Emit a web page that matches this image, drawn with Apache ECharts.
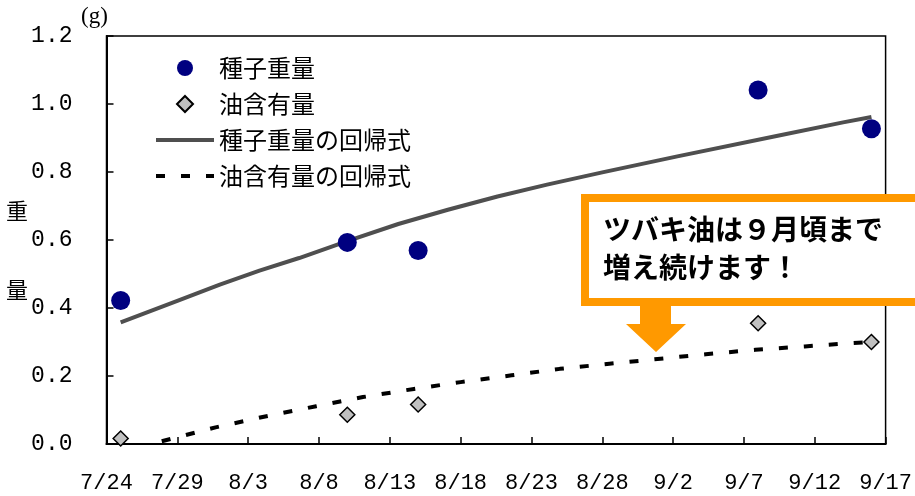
<!DOCTYPE html>
<html>
<head>
<meta charset="utf-8">
<script src="https://cdn.jsdelivr.net/npm/echarts@6/dist/echarts.min.js"></script>
<style>
  html, body { margin: 0; padding: 0; background: #fff; }
  #chart { width: 915px; height: 496px; }
</style>
</head>
<body>
<div id="chart"></div>
<script>
// X axis: days counted from 7/24, one tick label every 5 days
const tickLabels = ['7/24', '7/29', '8/3', '8/8', '8/13', '8/18', '8/23', '8/28', '9/2', '9/7', '9/12', '9/17'];

// Sampling days (days after 7/24) and measured values (g)
const sampleDays = [1, 17, 22, 46, 54];
const seedWeight = [0.422, 0.593, 0.569, 1.041, 0.927];
const oilContent = [0.016, 0.086, 0.116, 0.355, 0.300];

// Regression curve for seed weight
const seedTrendDays = [1, 5, 8, 10.8, 13.6, 17.1, 20.6, 24.1, 27.6, 31.1, 35, 40.3, 47.3, 52, 54];
const seedTrendVals = [0.358, 0.421, 0.469, 0.510, 0.547, 0.598, 0.647, 0.689, 0.728, 0.763, 0.799, 0.846, 0.906, 0.946, 0.962];

// Regression curve for oil content
const oilTrendDays = [3.9, 7.7, 11.2, 14.8, 18.1, 21.7, 25, 28.6, 32, 35.5, 38.9, 42.3, 45.8, 49.3, 52.7, 54];
const oilTrendVals = [0.008, 0.049, 0.081, 0.111, 0.138, 0.162, 0.182, 0.202, 0.221, 0.236, 0.250, 0.264, 0.277, 0.287, 0.297, 0.300];

const pairs = (xs, ys) => xs.map((x, i) => [x, ys[i]]);

const jp = '"Noto Sans CJK JP", "Noto Sans", sans-serif';
const mono = '"Liberation Mono", "DejaVu Sans Mono", monospace';

const chart = echarts.init(document.getElementById('chart'), null, { renderer: 'canvas' });

chart.setOption({
  animation: false,
  backgroundColor: '#fff',
  grid: {
    left: 106.5, right: 25, top: 36, bottom: 52,
    show: true, borderColor: '#000', borderWidth: 1.5, backgroundColor: 'transparent'
  },
  xAxis: {
    type: 'value',
    min: 0, max: 55, interval: 5,
    axisLine: { show: true, onZero: false, lineStyle: { color: '#000', width: 2 } },
    axisTick: { show: true, inside: true, length: 7, lineStyle: { color: '#000', width: 1.5 } },
    splitLine: { show: false },
    axisLabel: {
      margin: 28, color: '#000', fontFamily: mono, fontSize: 22,
      formatter: v => tickLabels[Math.round(v / 5)] || ''
    }
  },
  yAxis: {
    type: 'value',
    min: 0, max: 1.2, interval: 0.2,
    axisLine: { show: true, onZero: false, lineStyle: { color: '#000', width: 2 } },
    axisTick: { show: true, inside: true, length: 7, lineStyle: { color: '#000', width: 1.5 } },
    splitLine: { show: false },
    axisLabel: {
      margin: 34, color: '#000', fontFamily: mono, fontSize: 23,
      formatter: v => v.toFixed(1)
    }
  },
  legend: {
    orient: 'vertical',
    left: 149, top: 51,
    itemWidth: 58, itemHeight: 16, itemGap: 12,
    textStyle: { color: '#000', fontFamily: jp, fontSize: 24 },
    data: [
      { name: '種子重量', icon: 'circle' },
      { name: '油含有量', icon: 'path://M7,0 L14,7 L7,14 L0,7 Z' },
      { name: '種子重量の回帰式', itemStyle: { opacity: 0 }, lineStyle: { width: 4 } },
      { name: '油含有量の回帰式', itemStyle: { opacity: 0 }, lineStyle: { width: 4 } }
    ]
  },
  series: [
    {
      name: '種子重量の回帰式',
      type: 'line',
      data: pairs(seedTrendDays, seedTrendVals),
      symbol: 'none',
      lineStyle: { color: '#4f4f4f', width: 4, join: 'round' },
      itemStyle: { color: '#4f4f4f' },
      z: 2
    },
    {
      name: '油含有量の回帰式',
      type: 'line',
      data: pairs(oilTrendDays, oilTrendVals),
      symbol: 'none',
      lineStyle: { color: '#000', width: 4, type: [9, 16], cap: 'butt' },
      itemStyle: { color: '#000' },
      z: 2
    },
    {
      name: '種子重量',
      type: 'scatter',
      data: pairs(sampleDays, seedWeight),
      symbol: 'circle',
      symbolSize: 19,
      itemStyle: { color: '#000080', opacity: 1 },
      z: 3
    },
    {
      name: '油含有量',
      type: 'scatter',
      data: pairs(sampleDays, oilContent),
      symbol: 'diamond',
      symbolSize: 15,
      itemStyle: { color: '#c0c0c0', borderColor: '#000', borderWidth: 1.5, opacity: 1 },
      z: 3
    }
  ],
  graphic: [
    // unit
    { type: 'text', left: 81, top: 5, style: { text: '(g)', fontFamily: '"Liberation Serif", serif', fontSize: 23, fill: '#000' } },
    // vertical axis title
    { type: 'text', left: 6, top: 200, style: { text: '重', fontFamily: jp, fontSize: 22, fill: '#000' } },
    { type: 'text', left: 6, top: 279, style: { text: '量', fontFamily: jp, fontSize: 22, fill: '#000' } },
    // callout box
    {
      type: 'rect', z: 10,
      shape: { x: 585, y: 198, width: 345, height: 104 },
      style: { fill: '#fff', stroke: '#ff9900', lineWidth: 8 }
    },
    {
      type: 'text', z: 11, left: 603, top: 215,
      style: { text: 'ツバキ油は９月頃まで', fontFamily: jp, fontSize: 28, fontWeight: 'bold', fill: '#000' }
    },
    {
      type: 'text', z: 11, left: 603, top: 253,
      style: { text: '増え続けます！', fontFamily: jp, fontSize: 28, fontWeight: 'bold', fill: '#000' }
    },
    // arrow pointing down to the oil curve
    {
      type: 'polygon', z: 10,
      shape: { points: [[640, 305], [671, 305], [671, 324], [686, 324], [656, 352], [626, 324], [640, 324]] },
      style: { fill: '#ff9900' }
    }
  ]
});
</script>
</body>
</html>
